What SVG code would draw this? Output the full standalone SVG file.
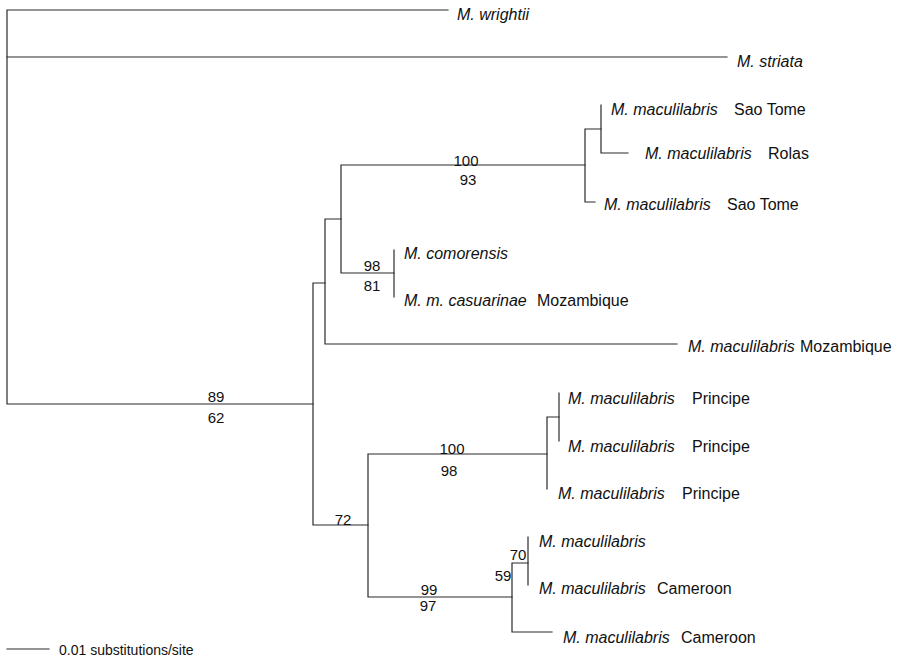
<svg xmlns="http://www.w3.org/2000/svg" width="907" height="662" viewBox="0 0 907 662">
<style>
.br{fill:none;stroke:#2a2a2a;stroke-width:1.2;stroke-linecap:square}
.tip{font-family:"Liberation Sans",Arial,sans-serif;font-size:16px;fill:#111}
.it{font-style:italic}
.sup{font-family:"Liberation Sans",Arial,sans-serif;font-size:15px;fill:#111;text-anchor:middle}
.scale{font-family:"Liberation Sans",Arial,sans-serif;font-size:14px;fill:#111}
</style>
<rect width="907" height="662" fill="#fff"/>
<g id="connectors">
  <path class="br" d="M448,10 H7 V404 H313"/>
  <path class="br" d="M7,57 H727"/>
  <path class="br" d="M325,283 H313 V525 H368"/>
  <path class="br" d="M341,219 H325 V344 H677"/>
  <path class="br" d="M585,165 H341 V273 H394"/>
  <path class="br" d="M601,129 H585 V202 H595"/>
  <path class="br" d="M601,105 V153 H628"/>
  <path class="br" d="M394,250 V297"/>
  <path class="br" d="M547,454 H368 V597 H512"/>
  <path class="br" d="M559,417 H547 V489"/>
  <path class="br" d="M559,393 V441"/>
  <path class="br" d="M528,563 H512 V632 H552"/>
  <path class="br" d="M528,537 V585"/>
</g>
<g id="tip-wrightii"><text class="tip it" x="457" y="20">M. wrightii</text></g>
<g id="tip-striata"><text class="tip it" x="737" y="67">M. striata</text></g>
<g id="tip-saotome1"><text class="tip" x="611" y="115"><tspan class="it">M. maculilabris</tspan><tspan x="734">Sao Tome</tspan></text></g>
<g id="tip-rolas"><text class="tip" x="645" y="159"><tspan class="it">M. maculilabris</tspan><tspan x="768">Rolas</tspan></text></g>
<g id="tip-saotome2"><text class="tip" x="604" y="210"><tspan class="it">M. maculilabris</tspan><tspan x="727">Sao Tome</tspan></text></g>
<g id="tip-comorensis"><text class="tip it" x="404" y="259">M. comorensis</text></g>
<g id="tip-casuarinae"><text class="tip" x="404" y="306"><tspan class="it">M. m. casuarinae</tspan><tspan x="537">Mozambique</tspan></text></g>
<g id="tip-mozambique"><text class="tip" x="688" y="352"><tspan class="it">M. maculilabris</tspan><tspan x="800">Mozambique</tspan></text></g>
<g id="tip-principe1"><text class="tip" x="568" y="404"><tspan class="it">M. maculilabris</tspan><tspan x="692">Principe</tspan></text></g>
<g id="tip-principe2"><text class="tip" x="568" y="452"><tspan class="it">M. maculilabris</tspan><tspan x="692">Principe</tspan></text></g>
<g id="tip-principe3"><text class="tip" x="558" y="499"><tspan class="it">M. maculilabris</tspan><tspan x="682">Principe</tspan></text></g>
<g id="tip-maculilabris"><text class="tip it" x="539" y="547">M. maculilabris</text></g>
<g id="tip-cameroon1"><text class="tip" x="539" y="594"><tspan class="it">M. maculilabris</tspan><tspan x="657">Cameroon</tspan></text></g>
<g id="tip-cameroon2"><text class="tip" x="563" y="643"><tspan class="it">M. maculilabris</tspan><tspan x="681">Cameroon</tspan></text></g>
<g id="support">
  <text class="sup" x="216" y="402">89</text>
  <text class="sup" x="216" y="423">62</text>
  <text class="sup" x="466" y="166">100</text>
  <text class="sup" x="468" y="185">93</text>
  <text class="sup" x="372" y="271">98</text>
  <text class="sup" x="372" y="291">81</text>
  <text class="sup" x="343" y="525">72</text>
  <text class="sup" x="452" y="454">100</text>
  <text class="sup" x="449" y="476">98</text>
  <text class="sup" x="518" y="560">70</text>
  <text class="sup" x="503" y="581">59</text>
  <text class="sup" x="429" y="595">99</text>
  <text class="sup" x="428" y="611">97</text>
</g>
<g id="scale-bar">
  <path class="br" d="M7,649 H49"/>
  <text class="scale" x="59" y="655">0.01 substitutions/site</text>
</g>
</svg>
